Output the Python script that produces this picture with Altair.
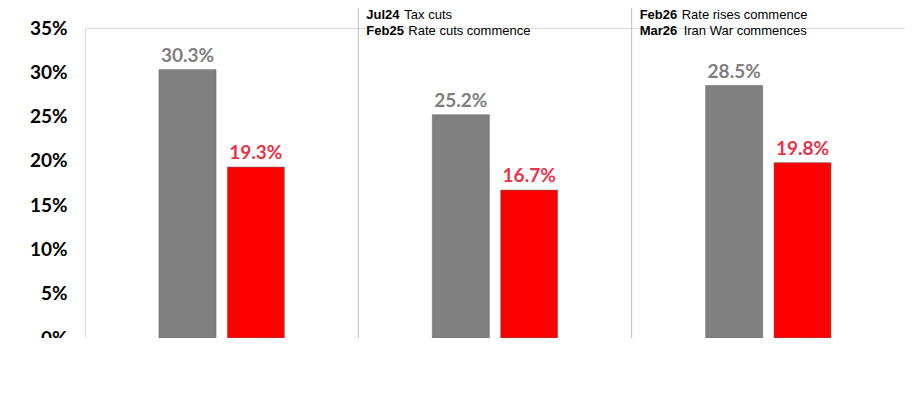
import altair as alt
import pandas as pd

periods = ["January 2024 - June 2024", "July 2025 - December 2025", "January 2026 - June 2026"]
at_risk = [30.3, 25.2, 28.5]
extreme = [19.3, 16.7, 19.8]
series = ["At Risk", "Extremely At Risk"]
colors = ["#808080", "#ff0000"]
label_colors = ["#7f7f7f", "#e8344a"]

# annotation rows: (period, row, bold part, plain part, plain offset px)
notes = [
    (periods[1], 0, "Jul24", "Tax cuts", 38),
    (periods[1], 1, "Feb25", "Rate cuts commence", 42),
    (periods[2], 0, "Feb26", "Rate rises commence", 42),
    (periods[2], 1, "Mar26", "Iran War commences", 44),
]

rows = []
for p, a, e in zip(periods, at_risk, extreme):
    rows.append({"period": p, "series": series[0], "value": a / 100, "label": f"{a:.1f}%"})
    rows.append({"period": p, "series": series[1], "value": e / 100, "label": f"{e:.1f}%"})
df = pd.DataFrame(rows)

FONT = "Lato"
x = alt.X("period:N", sort=periods, title=None,
          scale=alt.Scale(paddingInner=0, paddingOuter=0),
          axis=alt.Axis(labelAngle=0, labelFontSize=15, labelFontWeight="bold",
                        labelColor="#000", labelFont=FONT, ticks=False,
                        domainColor="#bfbfbf", labelPadding=12))
xoff = alt.XOffset("series:N", sort=series,
                   scale=alt.Scale(paddingInner=0, paddingOuter=1))

base = alt.Chart(df).encode(x=x, xOffset=xoff)

bars = base.mark_bar(width=57).encode(
    y=alt.Y("value:Q", scale=alt.Scale(domain=[0, 0.35]), title=None,
            axis=alt.Axis(format=".0%", values=[0, .05, .1, .15, .2, .25, .3, .35],
                          labelFontSize=19, labelFontWeight="bold", labelColor="#000",
                          labelFont=FONT, grid=False, domain=False, ticks=False,
                          labelPadding=18)),
    color=alt.Color("series:N", sort=series,
                    scale=alt.Scale(domain=series, range=colors),
                    legend=alt.Legend(orient="bottom", title=None, symbolType="square",
                                      symbolSize=200, labelFontSize=17,
                                      labelFontWeight="bold", labelColor="#595959",
                                      labelFont=FONT, offset=22, columnPadding=30)),
    stroke=alt.value("#6a6a6a"),
    strokeWidth=alt.value(0.6),
)

labels = base.mark_text(dy=-14, fontSize=19, fontWeight="bold", font=FONT).encode(
    y="value:Q", text="label:N",
    color=alt.Color("series:N", scale=alt.Scale(domain=series, range=label_colors), legend=None),
)

sep = alt.Chart(pd.DataFrame({"period": periods[1:]})).mark_rule(
    color="#bfbfbf", strokeWidth=1).encode(
    x=alt.X("period:N", sort=periods, bandPosition=0),
    y=alt.value(-28), y2=alt.value(310))

ndf = pd.DataFrame(notes, columns=["period", "row", "bold", "plain", "off"])
note_layers = []
for _, r in ndf.iterrows():
    one = alt.Chart(pd.DataFrame([r])).encode(
        x=alt.X("period:N", sort=periods, bandPosition=0),
        y=alt.value(-13 + 16 * int(r["row"])))
    note_layers.append(one.mark_text(align="left", dx=8, fontSize=13, fontWeight="bold",
                                     font="Liberation Sans", color="#000").encode(text="bold:N"))
    note_layers.append(one.mark_text(align="left", dx=8 + int(r["off"]), fontSize=13,
                                     font="Liberation Sans", color="#000").encode(text="plain:N"))

chart = alt.layer(sep, bars, labels, *note_layers).resolve_scale(color="independent").properties(
    width=820, height=310,
    autosize=alt.AutoSizeParams(type="none"),
    padding={"left": 77, "top": 20, "right": 0, "bottom": 0},
).configure_view(stroke=None).configure(background="white")

chart.save("out.html", embed_options={"renderer": "svg", "actions": False})
